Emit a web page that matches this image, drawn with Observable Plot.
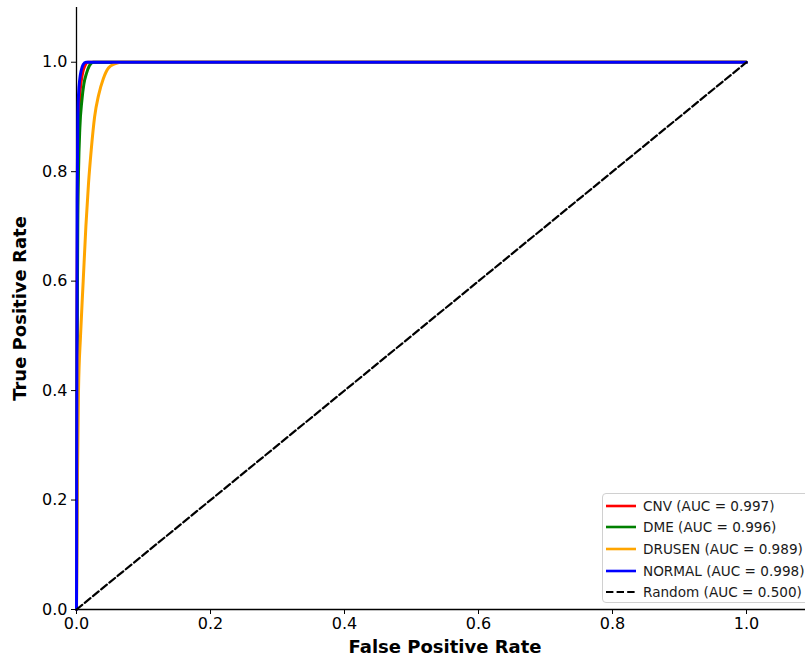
<!DOCTYPE html>
<html>
<head>
<meta charset="utf-8">
<script src="https://cdn.jsdelivr.net/npm/d3@7"></script>
<script src="https://cdn.jsdelivr.net/npm/@observablehq/plot@0.6"></script>
<style>
  body { margin: 0; background: #fff; }
  #wrap { position: relative; width: 805px; height: 664px; overflow: hidden; font-family: "DejaVu Sans", sans-serif; }
  #legend { position: absolute; left: 602px; top: 493px; width: 215px; height: 110px; border: 1px solid #d0d0d0; border-radius: 4px; background: rgba(255,255,255,0.85); box-sizing: border-box; padding-top: 1px; }
  .row { display: flex; align-items: center; height: 21.6px; font-size: 13.6px; color: #1a1a1a; }
  .row svg { margin-left: 3px; margin-right: 7px; }
</style>
</head>
<body>
<div id="wrap"><div id="chart"></div><div id="legend"></div></div>
<script>
// Series: ROC curves (false positive rate vs true positive rate)
const seriesNames = ["CNV", "DME", "DRUSEN", "NORMAL", "Random"];
const seriesAUC = ["0.997", "0.996", "0.989", "0.998", "0.500"];
const seriesColors = ["#ff0000", "#008000", "#ffa500", "#0000ff", "#000000"];

const cnvFPR = [0, 0.001, 0.002, 0.003, 0.005, 0.007, 0.010, 0.013, 0.017, 1.0];
const cnvTPR = [0, 0.60, 0.80, 0.88, 0.94, 0.965, 0.985, 0.995, 1.0, 1.0];

const dmeFPR = [0, 0.001, 0.002, 0.003, 0.005, 0.008, 0.011, 0.015, 0.019, 0.025, 1.0];
const dmeTPR = [0, 0.50, 0.72, 0.80, 0.88, 0.93, 0.96, 0.98, 0.993, 1.0, 1.0];

const drusenFPR = [0, 0.001, 0.003, 0.006, 0.010, 0.014, 0.018, 0.022, 0.027, 0.033, 0.040, 0.048, 0.057, 0.066, 1.0];
const drusenTPR = [0, 0.20, 0.40, 0.50, 0.60, 0.70, 0.78, 0.84, 0.90, 0.94, 0.97, 0.99, 0.997, 1.0, 1.0];

const normalFPR = [0, 0.001, 0.002, 0.003, 0.005, 0.007, 0.010, 0.014, 1.0];
const normalTPR = [0, 0.75, 0.90, 0.94, 0.97, 0.985, 0.996, 1.0, 1.0];

const randomFPR = [0, 1];
const randomTPR = [0, 1];

const xTicks = [0, 0.2, 0.4, 0.6, 0.8, 1.0];
const yTicks = [0, 0.2, 0.4, 0.6, 0.8, 1.0];

const fprs = [cnvFPR, dmeFPR, drusenFPR, normalFPR, randomFPR];
const tprs = [cnvTPR, dmeTPR, drusenTPR, normalTPR, randomTPR];
const rows = [];
seriesNames.forEach((name, s) => {
  fprs[s].forEach((f, i) => rows.push({series: name, fpr: f, tpr: tprs[s][i]}));
});
const curves = rows.filter(d => d.series !== "Random");
const diag = rows.filter(d => d.series === "Random");

const W = 805, H = 664;
const chart = Plot.plot({
  width: W,
  height: H,
  marginLeft: 76,
  marginRight: 0,
  marginTop: 7,
  marginBottom: 55,
  style: {fontFamily: "DejaVu Sans, sans-serif", fontSize: "16px", color: "#000", background: "#fff"},
  x: {domain: [0, 1.1], range: [76, 813]},
  y: {domain: [0, 1.1]},
  color: {domain: seriesNames, range: seriesColors},
  marks: [
    Plot.ruleX([0], {stroke: "#000", strokeWidth: 1.3}),
    Plot.ruleY([0], {stroke: "#000", strokeWidth: 1.3}),
    Plot.line(curves, {x: "fpr", y: "tpr", z: "series", stroke: "series", strokeWidth: 3, curve: "monotone-x"}),
    Plot.line(diag, {x: "fpr", y: "tpr", stroke: "#000", strokeWidth: 2.2, strokeDasharray: "7.4,3.2"}),
    Plot.axisX({ticks: xTicks, tickFormat: d3.format(".1f"), tickSize: 5, tickPadding: 3, fontSize: 16, label: null, stroke: "#000"}),
    Plot.axisY({ticks: yTicks, tickFormat: d3.format(".1f"), tickSize: 5, tickPadding: 4, fontSize: 16, label: null, stroke: "#000"}),
    Plot.text(["False Positive Rate"], {frameAnchor: "bottom", dx: 4, dy: 43, fontWeight: "bold", fontSize: 18, fill: "#000"}),
    Plot.text(["True Positive Rate"], {frameAnchor: "left", textAnchor: "middle", dx: -56, rotate: -90, fontWeight: "bold", fontSize: 18, fill: "#000"})
  ]
});
document.getElementById("chart").appendChild(chart);

// legend
const leg = document.getElementById("legend");
seriesNames.forEach((name, i) => {
  const row = document.createElement("div");
  row.className = "row";
  const dash = name === "Random" ? ' stroke-dasharray="7.4,3.2"' : '';
  const sw = name === "Random" ? 2.2 : 2.6;
  row.innerHTML = `<svg width="30" height="10"><line x1="0" y1="5" x2="30" y2="5" stroke="${seriesColors[i]}" stroke-width="${sw}"${dash}/></svg><span>${name} (AUC = ${seriesAUC[i]})</span>`;
  leg.appendChild(row);
});
</script>
</body>
</html>
